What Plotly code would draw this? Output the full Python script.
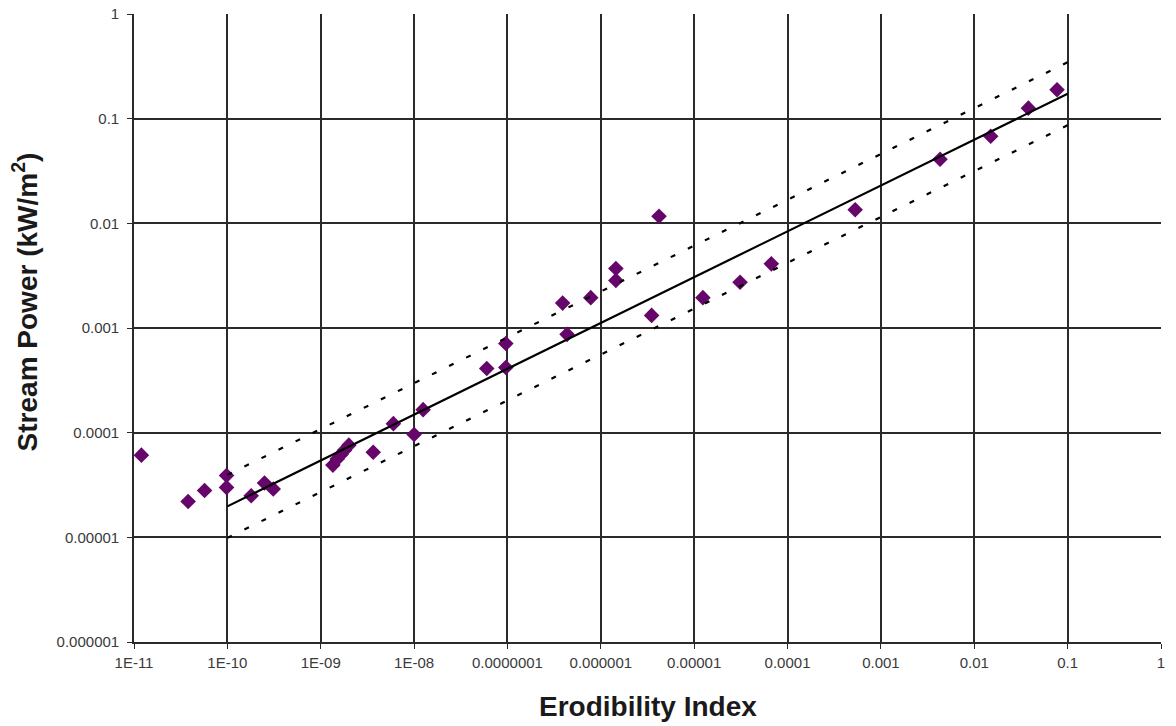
import numpy as np
import plotly.graph_objects as go

# Measured samples: erodibility index vs. stream power
erodibility = [
    1.2e-11, 3.8e-11, 5.7e-11, 9.8e-11, 9.8e-11, 1.8e-10, 2.5e-10, 3.1e-10,
    1.35e-9, 1.5e-9, 1.65e-9, 1.8e-9, 2.0e-9, 3.65e-9, 6.0e-9, 1.0e-8, 1.25e-8,
    6.0e-8, 9.6e-8, 9.6e-8, 3.9e-7, 4.35e-7, 7.8e-7, 1.45e-6, 1.45e-6, 3.5e-6,
    4.2e-6, 1.24e-5, 3.1e-5, 6.7e-5, 5.3e-4, 4.3e-3, 1.5e-2, 3.8e-2, 7.7e-2,
]
stream_power = [
    6.1e-5, 2.2e-5, 2.8e-5, 3.9e-5, 3.0e-5, 2.5e-5, 3.3e-5, 2.9e-5,
    4.9e-5, 5.6e-5, 6.2e-5, 6.8e-5, 7.6e-5, 6.5e-5, 1.22e-4, 9.6e-5, 1.66e-4,
    4.1e-4, 7.1e-4, 4.2e-4, 1.73e-3, 8.7e-4, 1.95e-3, 3.7e-3, 2.85e-3, 1.32e-3,
    1.17e-2, 1.95e-3, 2.74e-3, 4.1e-3, 1.35e-2, 4.1e-2, 6.8e-2, 0.126, 0.189,
]

# Power-law fit  P = a * K^b, with a factor-of-two band
fit_a = 0.474
fit_b = 0.438
band_factor = 2.0
fit_range = [1e-10, 0.1]

x_ticks = [1e-11, 1e-10, 1e-9, 1e-8, 1e-7, 1e-6, 1e-5, 1e-4, 1e-3, 1e-2, 1e-1, 1]
x_tick_text = ["1E-11", "1E-10", "1E-09", "1E-08", "0.0000001", "0.000001",
               "0.00001", "0.0001", "0.001", "0.01", "0.1", "1"]
y_ticks = [1e-6, 1e-5, 1e-4, 1e-3, 1e-2, 1e-1, 1]
y_tick_text = ["0.000001", "0.00001", "0.0001", "0.001", "0.01", "0.1", "1"]

FONT = "Liberation Sans, Arial, sans-serif"

fit_x = np.array(fit_range)
fit_y = fit_a * fit_x ** fit_b

fig = go.Figure()

fig.add_trace(go.Scatter(
    x=erodibility, y=stream_power, mode="markers",
    marker=dict(symbol="diamond", size=12, color="#66066a", line=dict(width=0)),
    showlegend=False, cliponaxis=False,
))
fig.add_trace(go.Scatter(
    x=fit_x, y=fit_y, mode="lines",
    line=dict(color="black", width=2.2), showlegend=False,
))
for f in (band_factor, 1 / band_factor):
    fig.add_trace(go.Scatter(
        x=fit_x, y=fit_y * f, mode="lines",
        line=dict(color="black", width=2.2, dash="5px,14px"), showlegend=False,
    ))

axis_common = dict(
    type="log", automargin=False,
    showgrid=True, gridcolor="#2a2a2a", gridwidth=1.5,
    showline=True, linecolor="#2a2a2a", linewidth=1.6, mirror=False,
    ticks="outside", ticklen=5, tickcolor="#2a2a2a", tickwidth=1.3,
    zeroline=False,
    tickfont=dict(family=FONT, size=15, color="#3a3a3a"),
)

fig.update_xaxes(range=[-11, 0], tickvals=x_ticks, ticktext=x_tick_text,
                 ticklabelstandoff=1, **axis_common)
fig.update_yaxes(range=[-6, 0], tickvals=y_ticks, ticktext=y_tick_text,
                 ticklabelstandoff=5, **axis_common)

# Axis titles
fig.add_annotation(
    text="<b>Erodibility Index</b>", xref="paper", yref="paper",
    x=0.5, y=-0.102, xanchor="center", yanchor="middle", showarrow=False,
    font=dict(family=FONT, size=28, color="#1a1a1a"),
)
fig.add_annotation(
    text="<b>Stream Power (kW/m<sup>2</sup>)</b>", xref="paper", yref="paper",
    x=-0.106, y=0.541, xanchor="center", yanchor="middle", showarrow=False,
    textangle=-90, font=dict(family=FONT, size=28, color="#1a1a1a"),
)

fig.update_layout(
    width=1176, height=726,
    margin=dict(l=134, r=15, t=14, b=84),
    paper_bgcolor="white", plot_bgcolor="white",
)

fig.write_html("out.html")
